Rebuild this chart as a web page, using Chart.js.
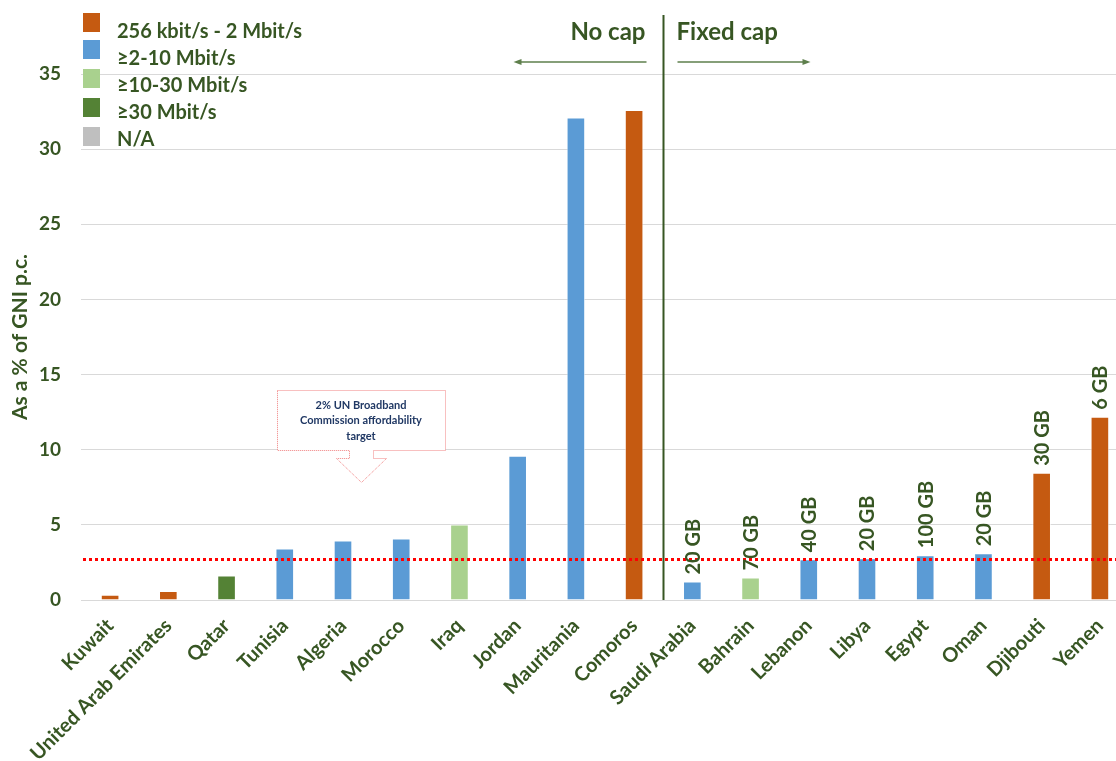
<!DOCTYPE html>
<html>
<head>
<meta charset="utf-8">
<script src="https://cdn.jsdelivr.net/npm/chart.js@4.4.0/dist/chart.umd.min.js"></script>
<style>
  html, body { margin: 0; padding: 0; background: #ffffff; overflow: hidden; }
  #wrap { position: relative; width: 1130px; height: 761px; }
</style>
</head>
<body>
<div id="wrap"><canvas id="c"></canvas></div>
<script>
// ---------------- data ----------------
const countries = ['Kuwait', 'United Arab Emirates', 'Qatar', 'Tunisia', 'Algeria', 'Morocco', 'Iraq', 'Jordan', 'Mauritania', 'Comoros', 'Saudi Arabia', 'Bahrain', 'Lebanon', 'Libya', 'Egypt', 'Oman', 'Djibouti', 'Yemen'];
const costPctGNI = [0.35, 0.6, 1.63, 3.43, 3.96, 4.09, 5.02, 9.6, 32.1, 32.6, 1.23, 1.5, 2.71, 2.78, 2.98, 3.11, 8.46, 12.2];
const speedTier = ['low', 'low', 'vhigh', 'mid', 'mid', 'mid', 'high', 'mid', 'mid', 'low', 'mid', 'high', 'mid', 'mid', 'mid', 'mid', 'low', 'low'];
const dataCaps = ['', '', '', '', '', '', '', '', '', '', '20 GB', '70 GB', '40 GB', '20 GB', '100 GB', '20 GB', '30 GB', '6 GB'];
const tierKeys = ['low', 'mid', 'high', 'vhigh', 'na'];
const tierLabels = ['256 kbit/s - 2 Mbit/s', '≥2-10 Mbit/s', '≥10-30 Mbit/s', '≥30 Mbit/s', 'N/A'];
const tierColors = ['#C55A11', '#5B9BD5', '#A9D18E', '#548235', '#BFBFBF'];
const yTicks = [0, 5, 10, 15, 20, 25, 30, 35];
const targetLineValue = 2.7;
const firstCappedIndex = 10;
const annotationLines = ['2% UN Broadband', 'Commission affordability', 'target'];

const TXT = '#375623';
const FONT = 'Lato, "Open Sans", sans-serif';
const barColors = speedTier.map(t => tierColors[tierKeys.indexOf(t)]);

// ---------------- plugins ----------------
const overlayPlugin = {
  id: 'overlay',
  afterDatasetsDraw(chart) {
    const ctx = chart.ctx;
    const xs = chart.scales.x, ys = chart.scales.y;
    const area = chart.chartArea;
    ctx.save();

    // target dotted line
    const ty = ys.getPixelForValue(targetLineValue);
    ctx.strokeStyle = '#FF0000';
    ctx.lineWidth = 3;
    ctx.setLineDash([3, 3]);
    ctx.beginPath();
    ctx.moveTo(area.left + 2, ty);
    ctx.lineTo(area.right, ty);
    ctx.stroke();
    ctx.setLineDash([]);

    // separator line
    const sx = Math.round((xs.getPixelForValue(firstCappedIndex - 1) + xs.getPixelForValue(firstCappedIndex)) / 2) + 0.5;
    ctx.strokeStyle = '#375623';
    ctx.lineWidth = 2;
    ctx.beginPath();
    ctx.moveTo(sx, 15);
    ctx.lineTo(sx, area.bottom);
    ctx.stroke();

    // No cap / Fixed cap
    ctx.fillStyle = TXT;
    ctx.font = 'bold 24px ' + FONT;
    ctx.textBaseline = 'middle';
    ctx.textAlign = 'right';
    ctx.fillText('No cap', sx - 18, 32);
    ctx.textAlign = 'left';
    ctx.fillText('Fixed cap', sx + 13, 32);

    // arrows
    ctx.strokeStyle = '#5E7F4C';
    ctx.fillStyle = '#5E7F4C';
    ctx.lineWidth = 1.5;
    const ay = 62;
    ctx.beginPath(); ctx.moveTo(sx - 17, ay); ctx.lineTo(sx - 146, ay); ctx.stroke();
    ctx.beginPath(); ctx.moveTo(sx - 150, ay); ctx.lineTo(sx - 142, ay - 3); ctx.lineTo(sx - 142, ay + 3); ctx.closePath(); ctx.fill();
    ctx.beginPath(); ctx.moveTo(sx + 14, ay); ctx.lineTo(sx + 143, ay); ctx.stroke();
    ctx.beginPath(); ctx.moveTo(sx + 147, ay); ctx.lineTo(sx + 139, ay - 3); ctx.lineTo(sx + 139, ay + 3); ctx.closePath(); ctx.fill();

    // data cap labels
    const meta = chart.getDatasetMeta(0);
    ctx.fillStyle = TXT;
    ctx.font = 'bold 20px ' + FONT;
    meta.data.forEach((el, i) => {
      const lbl = dataCaps[i];
      if (!lbl) return;
      ctx.save();
      ctx.translate(el.x + 1, el.y - 7);
      ctx.rotate(-Math.PI / 2);
      ctx.textAlign = 'left';
      ctx.textBaseline = 'middle';
      ctx.fillText(lbl, 0, 0);
      ctx.restore();
    });

    // annotation callout
    const bx0 = 277, by0 = 390, bx1 = 445, by1 = 450;
    const cx = (bx0 + bx1) / 2;
    ctx.fillStyle = '#FFFFFF';
    ctx.strokeStyle = '#F08080';
    ctx.lineWidth = 1;
    ctx.setLineDash([1, 1]);
    ctx.beginPath();
    ctx.moveTo(bx0 + 0.5, by0 + 0.5);
    ctx.lineTo(bx1 + 0.5, by0 + 0.5);
    ctx.lineTo(bx1 + 0.5, by1 + 0.5);
    ctx.lineTo(cx + 12.5, by1 + 0.5);
    ctx.lineTo(cx + 12.5, 458.5);
    ctx.lineTo(cx + 25.5, 458.5);
    ctx.lineTo(cx + 0.5, 482.5);
    ctx.lineTo(cx - 24.5, 458.5);
    ctx.lineTo(cx - 11.5, 458.5);
    ctx.lineTo(cx - 11.5, by1 + 0.5);
    ctx.lineTo(bx0 + 0.5, by1 + 0.5);
    ctx.closePath();
    ctx.fill();
    ctx.stroke();
    ctx.setLineDash([]);
    ctx.fillStyle = '#203864';
    ctx.font = 'bold 11px ' + FONT;
    ctx.textAlign = 'center';
    ctx.textBaseline = 'middle';
    annotationLines.forEach((t, i) => ctx.fillText(t, cx, 405 + i * 15.5));

    // legend
    ctx.font = 'bold 20px ' + FONT;
    ctx.textAlign = 'left';
    ctx.textBaseline = 'middle';
    const sqY = [13, 40, 69, 98, 127];
    tierLabels.forEach((t, i) => {
      ctx.fillStyle = tierColors[i];
      ctx.fillRect(83, sqY[i], 17, 19);
      ctx.fillStyle = TXT;
      ctx.fillText(t, 117, 32 + i * 27);
    });

    ctx.restore();
  }
};

// ---------------- chart ----------------
new Chart(document.getElementById('c'), {
  type: 'bar',
  data: {
    labels: countries,
    datasets: [{
      data: costPctGNI,
      backgroundColor: barColors,
      borderColor: 'rgba(255,255,255,0.6)',
      borderWidth: 1,
      categoryPercentage: 1,
      barPercentage: 0.32
    }]
  },
  options: {
    responsive: true,
    maintainAspectRatio: false,
    animation: false,
    events: [],
    layout: { padding: { top: 74, right: 1, bottom: 0, left: 0 } },
    plugins: { legend: { display: false }, tooltip: { enabled: false } },
    scales: {
      x: {
        grid: { display: false },
        border: { display: true, color: '#D9D9D9', width: 1 },
        ticks: {
          color: TXT,
          font: { family: FONT, size: 20, weight: 'bold' },
          maxRotation: 45,
          minRotation: 45,
          autoSkip: false,
          padding: 6
        },
        afterFit(scale) { scale.height = 161; }
      },
      y: {
        min: 0,
        max: 35,
        afterBuildTicks(scale) { scale.ticks = yTicks.map(v => ({ value: v })); },
        grid: { color: '#D9D9D9', lineWidth: 1, drawTicks: false },
        border: { display: false },
        ticks: {
          color: TXT,
          font: { family: FONT, size: 19, weight: 'bold' },
          padding: 20
        },
        title: {
          display: true,
          text: 'As a % of GNI p.c.',
          color: TXT,
          font: { family: FONT, size: 21, weight: 'bold' },
          padding: { top: 8, bottom: 0 }
        },
        afterFit(scale) { scale.width = 81; }
      }
    }
  },
  plugins: [overlayPlugin]
});
</script>
</body>
</html>
